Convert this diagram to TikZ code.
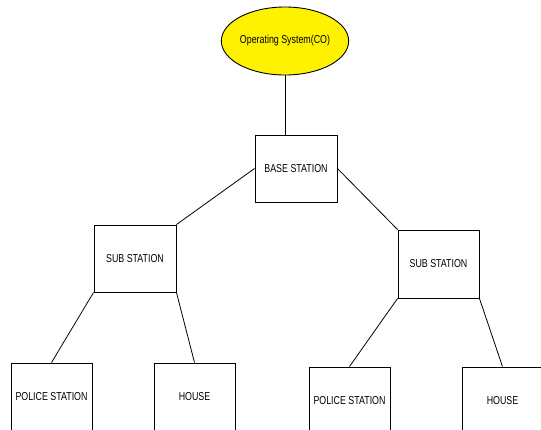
\documentclass[tikz,border=0pt]{standalone}
\usetikzlibrary{shapes.geometric}
\usepackage{fontspec}
\setmainfont{Liberation Sans}
\newfontfamily\diafont[FakeStretch=0.77]{Liberation Sans}
\begin{document}
\begin{tikzpicture}[x=1pt,y=-1pt,
  box/.style={draw=black, line width=0.9pt, fill=white, minimum width=82pt, minimum height=67pt, inner sep=0pt, font=\diafont\fontsize{11.5}{13}\selectfont},
  oval/.style={ellipse, draw=black, line width=0.9pt, fill=yellow, minimum width=96pt, minimum height=68pt, inner sep=0pt, font=\diafont\fontsize{11.5}{13}\selectfont},
  link/.style={draw=black, line width=0.8pt}]
\useasboundingbox (0,0) rectangle (541,429);
\clip (0,0) rectangle (541,429);
\node[oval] (os) at (285,41) {Operating System(CO)};
\node[box] (base) at (296,168.5) {BASE STATION};
\node[box] (subL) at (135,258.5) {SUB STATION};
\node[box, minimum width=81pt, minimum height=68pt] (subR) at (438.5,264) {SUB STATION};
\node[box, minimum width=81pt] (polL) at (51.5,396.5) {POLICE STATION};
\node[box, minimum width=81pt] (houL) at (194.5,396.5) {HOUSE};
\node[box, minimum width=81pt] (polR) at (349.5,400.5) {POLICE STATION};
\node[box, minimum width=81pt] (houR) at (502.5,400.5) {HOUSE};
\draw[link] (os.south) -- (base.north -| os.south);
\draw[link] (base.west) -- (subL.north east);
\draw[link] (base.east) -- (subR.north west);
\draw[link] (subL.south west) -- (polL.north);
\draw[link] (subL.south east) -- (houL.north);
\draw[link] (subR.south west) -- (polR.north);
\draw[link] (subR.south east) -- (houR.north);
\end{tikzpicture}
\end{document}
